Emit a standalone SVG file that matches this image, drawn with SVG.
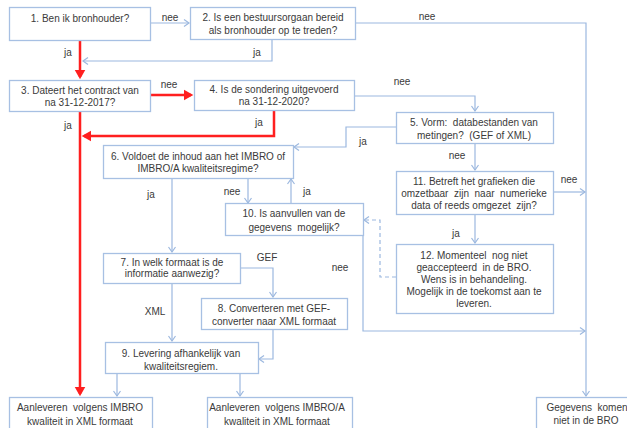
<svg xmlns="http://www.w3.org/2000/svg" width="627" height="428" viewBox="0 0 627 428">
<defs>
<style>
.box{fill:#fff;stroke:#a7c0e3;stroke-width:1.3}
.t{font-family:"Liberation Sans",Arial,sans-serif;font-size:10px;fill:#3a3a3a;text-anchor:middle;white-space:pre}
.c{fill:none;stroke:#9cb8df;stroke-width:1.2}
.d{fill:none;stroke:#9cb8df;stroke-width:1.2;stroke-dasharray:4 3}
.r{fill:none;stroke:#ff1f1f;stroke-width:2.5}
</style>
<marker id="ab" markerUnits="userSpaceOnUse" markerWidth="12" markerHeight="12" viewBox="-7 -6 9 12" refX="0" refY="0" orient="auto">
<path d="M-5,-3.5 L0,0 L-5,3.5" fill="none" stroke="#9cb8df" stroke-width="1.2"/>
</marker>
<marker id="ar" markerUnits="userSpaceOnUse" markerWidth="14" markerHeight="14" viewBox="-8 -6 11 12" refX="0" refY="0" orient="auto">
<path d="M-6,-4.5 L2,0 L-6,4.5 Z" fill="#ff1f1f"/>
</marker>
</defs>
<rect width="627" height="428" fill="#fff"/>

<g id="connectors">
<path class="c" d="M150,23 H189" marker-end="url(#ab)"/>
<path class="c" d="M355,23 H586 V396" marker-end="url(#ab)"/>
<path class="c" d="M272,39 V61 H83" marker-end="url(#ab)"/>
<path class="c" d="M354,96 H475 V111" marker-end="url(#ab)"/>
<path class="c" d="M396,127 H346 V147 H294" marker-end="url(#ab)"/>
<path class="c" d="M475,143 V170" marker-end="url(#ab)"/>
<path class="c" d="M172,178 V252" marker-end="url(#ab)"/>
<path class="c" d="M248,178 V203" marker-end="url(#ab)"/>
<path class="c" d="M291,203 V179" marker-end="url(#ab)"/>
<path class="c" d="M363,235 V331 H585" marker-end="url(#ab)"/>
<path class="c" d="M553,192 H585" marker-end="url(#ab)"/>
<path class="c" d="M475,214 V243" marker-end="url(#ab)"/>
<path class="d" d="M396,277 H380 V220 H364" marker-end="url(#ab)"/>
<path class="c" d="M240,268 H273 V297" marker-end="url(#ab)"/>
<path class="c" d="M172,283 V341" marker-end="url(#ab)"/>
<path class="c" d="M273,329 V359 H259" marker-end="url(#ab)"/>
<path class="c" d="M117,373 V396" marker-end="url(#ab)"/>
<path class="c" d="M240,373 V396" marker-end="url(#ab)"/>
<path class="r" d="M80,40 V77" marker-end="url(#ar)"/>
<path class="r" d="M150,95 H191" marker-end="url(#ar)"/>
<path class="r" d="M274,110 V136 H84" marker-end="url(#ar)"/>
<path class="r" d="M80,111 V394" marker-end="url(#ar)"/>
</g>

<g id="labels">
<text class="t" x="170" y="21">nee</text>
<text class="t" x="68" y="56">ja</text>
<text class="t" x="427" y="20">nee</text>
<text class="t" x="257" y="56">ja</text>
<text class="t" x="169" y="88">nee</text>
<text class="t" x="402" y="85">nee</text>
<text class="t" x="259" y="126">ja</text>
<text class="t" x="68" y="129">ja</text>
<text class="t" x="363" y="145">ja</text>
<text class="t" x="457" y="159">nee</text>
<text class="t" x="151" y="198">ja</text>
<text class="t" x="232" y="195">nee</text>
<text class="t" x="307" y="195">ja</text>
<text class="t" x="569" y="183">nee</text>
<text class="t" x="456" y="237">ja</text>
<text class="t" x="267" y="261">GEF</text>
<text class="t" x="340" y="271">nee</text>
<text class="t" x="155" y="315">XML</text>
</g>

<g id="n1"><rect class="box" x="9.5" y="7.5" width="141" height="33"/>
<text class="t" x="80" y="21.5">1. Ben ik bronhouder?</text></g>

<g id="n2"><rect class="box" x="190.5" y="7.5" width="165" height="32"/>
<text class="t" x="273" y="20.5">2. Is een bestuursorgaan bereid</text>
<text class="t" x="273" y="34">als bronhouder op te treden?</text></g>

<g id="n3"><rect class="box" x="9.5" y="80.5" width="141" height="31"/>
<text class="t" x="80" y="93.5">3. Dateert het contract van</text>
<text class="t" x="80" y="105.5">na 31-12-2017?</text></g>

<g id="n4"><rect class="box" x="194.5" y="80.5" width="160" height="30"/>
<text class="t" x="274" y="92.5">4. Is de sondering uitgevoerd</text>
<text class="t" x="274" y="104.5">na 31-12-2020?</text></g>

<g id="n5"><rect class="box" x="396.5" y="112.5" width="157" height="31"/>
<text class="t" x="474" y="125.5">5. Vorm:  databestanden van</text>
<text class="t" x="474" y="138.5">metingen?  (GEF of XML)</text></g>

<g id="n6"><rect class="box" x="103.5" y="145.5" width="190" height="33"/>
<text class="t" x="198" y="159.5">6. Voldoet de inhoud aan het IMBRO of</text>
<text class="t" x="198" y="171.5">IMBRO/A kwaliteitsregime?</text></g>

<g id="n10"><rect class="box" x="225.5" y="203.5" width="138" height="32"/>
<text class="t" x="294" y="216.5">10. Is aanvullen van de</text>
<text class="t" x="294" y="230.5">gegevens  mogelijk?</text></g>

<g id="n11"><rect class="box" x="396.5" y="171.5" width="157" height="43"/>
<text class="t" x="474" y="184.5">11. Betreft het grafieken die</text>
<text class="t" x="474" y="196.5">omzetbaar  zijn  naar  numerieke</text>
<text class="t" x="474" y="208.5">data of reeds omgezet  zijn?</text></g>

<g id="n12"><rect class="box" x="396.5" y="244.5" width="157" height="69"/>
<text class="t" x="474" y="258.5">12. Momenteel  nog niet</text>
<text class="t" x="474" y="270.5">geaccepteerd  in de BRO.</text>
<text class="t" x="474" y="282.5">Wens is in behandeling.</text>
<text class="t" x="474" y="294.5">Mogelijk in de toekomst aan te</text>
<text class="t" x="474" y="307">leveren.</text></g>

<g id="n7"><rect class="box" x="103.5" y="253.5" width="137" height="30"/>
<text class="t" x="172" y="265.5">7. In welk formaat is de</text>
<text class="t" x="172" y="277">informatie aanwezig?</text></g>

<g id="n8"><rect class="box" x="201.5" y="298.5" width="146" height="31"/>
<text class="t" x="274" y="311.5">8. Converteren met GEF-</text>
<text class="t" x="274" y="324.5">converter naar XML formaat</text></g>

<g id="n9"><rect class="box" x="105.5" y="342.5" width="153" height="31"/>
<text class="t" x="181" y="356.5">9. Levering afhankelijk van</text>
<text class="t" x="181" y="369.5">kwaliteitsregiem.</text></g>

<g id="n13"><rect class="box" x="9.5" y="397.5" width="143" height="40"/>
<text class="t" x="80" y="410.5">Aanleveren  volgens IMBRO</text>
<text class="t" x="80" y="424.5">kwaliteit in XML formaat</text></g>

<g id="n14"><rect class="box" x="207.5" y="397.5" width="145" height="40"/>
<text class="t" x="277" y="410.5">Aanleveren  volgens IMBRO/A</text>
<text class="t" x="277" y="424.5">kwaliteit in XML formaat</text></g>

<g id="n15"><rect class="box" x="536.5" y="397.5" width="105" height="40"/>
<text class="t" x="587" y="410.5">Gegevens  komen</text>
<text class="t" x="586" y="423.5">niet in de BRO</text></g>
</svg>
